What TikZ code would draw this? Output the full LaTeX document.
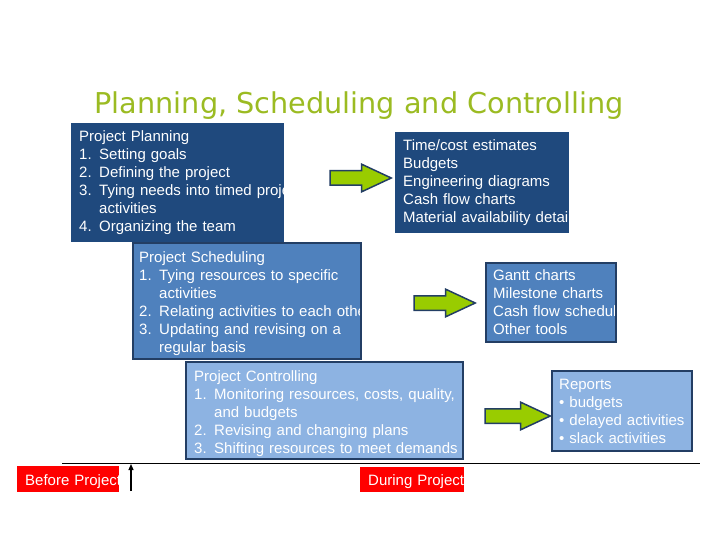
\documentclass[tikz,border=0pt]{standalone}
\usepackage{fontspec}
\setmainfont{Liberation Sans}
\newfontfamily\titlefont{DejaVu Sans}
\usetikzlibrary{shapes.arrows,arrows.meta}

\definecolor{navy}{HTML}{1F497D}
\definecolor{midblue}{HTML}{4F81BD}
\definecolor{lightblue}{HTML}{8DB3E2}
\definecolor{edgeblue}{HTML}{233E64}
\definecolor{arrowgreen}{HTML}{99CC00}
\definecolor{titlegreen}{HTML}{9BBB22}

\newcommand{\itemno}[1]{\makebox[20pt][l]{#1}}
\newcommand{\indnt}{\hspace*{20pt}}

\begin{document}
\begin{tikzpicture}[
        x=1pt, y=-1pt,
        navybox/.style={fill=navy, anchor=north west, inner sep=0},
        midbox/.style={fill=midblue, draw=edgeblue, line width=1.5pt, anchor=north west, inner sep=0},
        lightbox/.style={fill=lightblue, draw=edgeblue, line width=1.5pt, anchor=north west, inner sep=0},
        redbox/.style={fill=red, anchor=north west, inner sep=0},
        txt/.style={anchor=base west, inner sep=0, text width=400pt, align=left, text=white, font=\fontsize{15}{18}\selectfont},
        fat/.style={single arrow, draw=edgeblue, fill=arrowgreen, line width=1.5pt, minimum height=61pt, single arrow head extend=6.5pt, single arrow tip angle=50, inner xsep=0pt, inner ysep=6.5pt, anchor=tip},
        up/.style={-{Triangle[width=5pt,length=6pt]}, line width=1.2pt}
    ]
    \useasboundingbox (0,0) rectangle (720,540);

    % Title
    \node[font=\titlefont\fontsize{28.7}{30}\selectfont, text=titlegreen, anchor=base] (title) at (359,114) {Planning, Scheduling and Controlling};

    % Planning
    \node[navybox, minimum width=213pt, minimum height=119pt] (plan) at (71,123) {};
    \begin{scope}
        \clip (plan.south west) rectangle (plan.north east);
        \node[txt] (plantxt) at (79,142) {Project Planning\\
            \itemno{1.}Setting goals\\
            \itemno{2.}Defining the project\\
            \itemno{3.}Tying needs into timed proje\\
            \indnt activities\\
            \itemno{4.}Organizing the team};
    \end{scope}

    \node[navybox, minimum width=174pt, minimum height=101pt] (estim) at (395,132) {};
    \begin{scope}
        \clip (estim.south west) rectangle (estim.north east);
        \node[txt] (estimtxt) at (403,151) {Time/cost estimates\\
            Budgets\\
            Engineering diagrams\\
            Cash flow charts\\
            Material availability detail};
    \end{scope}

    \node[fat] (arrplan) at (393,178) {};

    % Scheduling
    \node[midbox, minimum width=228pt, minimum height=116pt] (sched) at (132,242) {};
    \begin{scope}
        \clip ([xshift=1.5pt]sched.south west) rectangle ([xshift=-2pt]sched.north east);
        \node[txt] (schedtxt) at (139,262) {Project Scheduling\\
            \itemno{1.}Tying resources to specific\\
            \indnt activities\\
            \itemno{2.}Relating activities to each othe\\
            \itemno{3.}Updating and revising on a\\
            \indnt regular basis};
    \end{scope}

    \node[midbox, minimum width=130pt, minimum height=79pt] (tools) at (485,262) {};
    \begin{scope}
        \clip ([xshift=1.5pt]tools.south west) rectangle ([xshift=-2pt]tools.north east);
        \node[txt] (toolstxt) at (493,280) {Gantt charts\\
            Milestone charts\\
            Cash flow schedul\\
            Other tools};
    \end{scope}

    \node[fat] (arrsched) at (477,303) {};

    % Controlling
    \node[lightbox, minimum width=277pt, minimum height=97pt] (ctrl) at (185,361) {};
    \begin{scope}
        \clip ([xshift=1.5pt]ctrl.south west) rectangle ([xshift=-2pt]ctrl.north east);
        \node[txt] (ctrltxt) at (194,381) {Project Controlling\\
            \itemno{1.}Monitoring resources, costs, quality,\\
            \indnt and budgets\\
            \itemno{2.}Revising and changing plans\\
            \itemno{3.}Shifting resources to meet demands};
    \end{scope}

    \node[lightbox, minimum width=140pt, minimum height=80pt] (reports) at (551,370) {};
    \node[txt] (reportstxt) at (559,389) {Reports\\
        \textbullet\ budgets\\
        \textbullet\ delayed activities\\
        \textbullet\ slack activities};

    \node[fat, minimum height=65pt] (arrctrl) at (552,416) {};

    % Time line
    \coordinate (lineL) at (62,463);
    \coordinate (lineR) at (700,463);
    \draw[line width=1pt] (lineL) -- (lineR);
    \coordinate (markfoot) at (131,491);
    \coordinate (mark) at (131,464);
    \draw[up] (markfoot) -- (mark);

    \node[redbox, minimum width=102pt, minimum height=26pt] (before) at (17,466) {};
    \begin{scope}
        \clip (before.south west) rectangle (before.north east);
        \node[txt] (beforetxt) at (25,485) {Before Project};
    \end{scope}

    \node[redbox, minimum width=104pt, minimum height=25pt] (during) at (360,467) {};
    \begin{scope}
        \clip (during.south west) rectangle (during.north east);
        \node[txt] (duringtxt) at (368,485) {During Project};
    \end{scope}

\end{tikzpicture}
\end{document}
